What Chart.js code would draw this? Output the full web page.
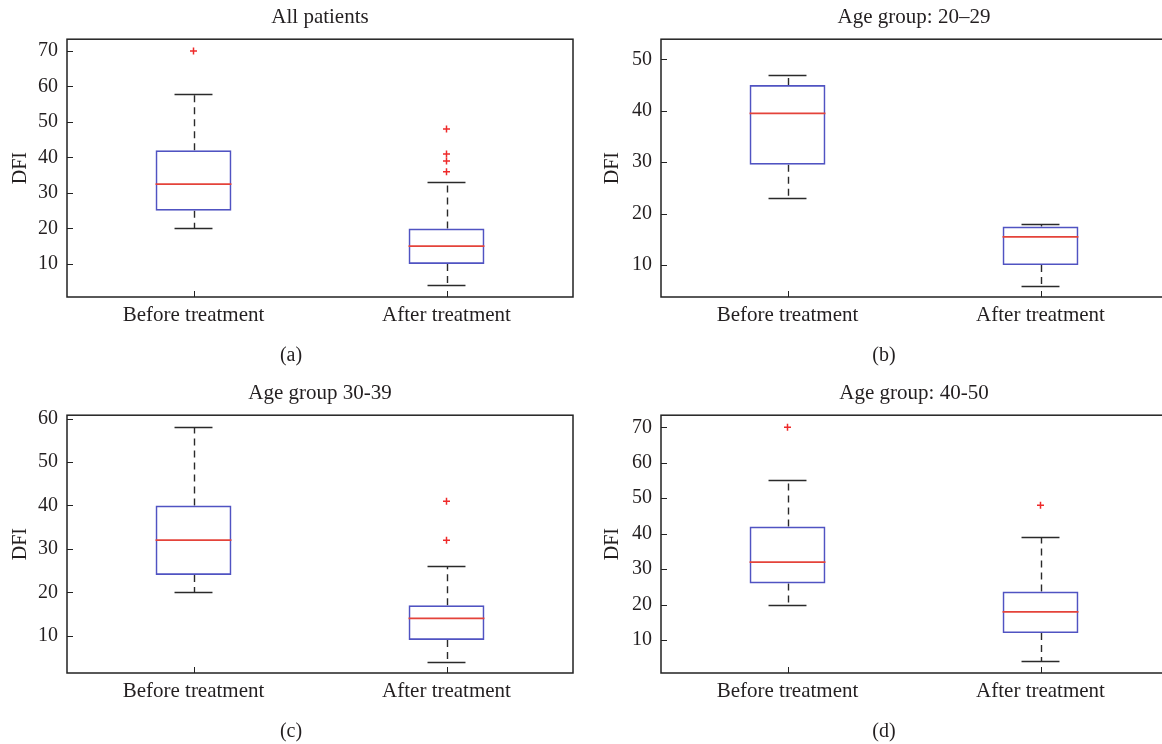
<!DOCTYPE html>
<html>
<head>
<meta charset="utf-8">
<script src="https://cdn.jsdelivr.net/npm/chart.js@4/dist/chart.umd.min.js"></script>
<style>
  html, body { margin: 0; padding: 0; background: #fff; overflow: hidden; width: 1162px; height: 744px; }
  canvas { position: absolute; }
</style>
</head>
<body>
<canvas id="panelA" width="581" height="372" style="left:0;top:0"></canvas>
<canvas id="panelB" width="606" height="372" style="left:581px;top:0"></canvas>
<canvas id="panelC" width="581" height="372" style="left:0;top:376px"></canvas>
<canvas id="panelD" width="606" height="372" style="left:581px;top:376px"></canvas>
<script>
// categories
const groups = ['Before treatment', 'After treatment'];

// (a) All patients  -- [before, after]
const q1A = [25, 10], q3A = [42, 20], medA = [32.5, 15], loA = [20, 4], hiA = [58, 33];
const outA = [[70], [36, 39, 41, 48]];
const ticksA = [10, 20, 30, 40, 50, 60, 70];

// (b) Age group 20-29
const q1B = [29.5, 10], q3B = [45, 17.5], medB = [39.5, 15.5], loB = [23, 6], hiB = [47, 18];
const outB = [[], []];
const ticksB = [10, 20, 30, 40, 50];

// (c) Age group 30-39
const q1C = [24, 9], q3C = [40, 17], medC = [32, 14], loC = [20, 4], hiC = [58, 26];
const outC = [[], [32, 41]];
const ticksC = [10, 20, 30, 40, 50, 60];

// (d) Age group 40-50
const q1D = [26, 12], q3D = [42, 23.7], medD = [32, 18], loD = [20, 4], hiD = [55, 39];
const outD = [[70], [48]];
const ticksD = [10, 20, 30, 40, 50, 60, 70];

const FONT = '"Liberation Serif", "DejaVu Serif", serif';
const TEXT = '#231f20';
const BOX = '#5053c2';
const MED = '#e4433a';
const WHISK = '#2a2a2a';
const OUTC = '#ee2a2a';

function boxPlugin(st) {
  return {
    id: 'boxparts',
    beforeDatasetsDraw(chart) {
      const ctx = chart.ctx, y = chart.scales.y;
      const bars = chart.getDatasetMeta(0).data;
      ctx.save();
      ctx.strokeStyle = WHISK;
      ctx.lineWidth = 1.4;
      bars.forEach((bar, i) => {
        const x = Math.round(bar.x) + 0.5;
        ctx.setLineDash([7, 5]);
        ctx.beginPath();
        ctx.moveTo(x, y.getPixelForValue(st.q3[i]));
        ctx.lineTo(x, y.getPixelForValue(st.hi[i]));
        ctx.moveTo(x, y.getPixelForValue(st.q1[i]));
        ctx.lineTo(x, y.getPixelForValue(st.lo[i]));
        ctx.stroke();
        ctx.setLineDash([]);
        const hw = bar.width / 4;
        ctx.beginPath();
        [st.hi[i], st.lo[i]].forEach(v => {
          const py = Math.round(y.getPixelForValue(v)) + 0.5;
          ctx.moveTo(bar.x - hw, py);
          ctx.lineTo(bar.x + hw, py);
        });
        ctx.stroke();
      });
      ctx.restore();
    },
    afterDatasetsDraw(chart) {
      const ctx = chart.ctx, y = chart.scales.y, xs = chart.scales.x;
      const a = chart.chartArea;
      const bars = chart.getDatasetMeta(0).data;
      ctx.save();
      ctx.strokeStyle = MED;
      ctx.lineWidth = 1.8;
      bars.forEach((bar, i) => {
        const py = y.getPixelForValue(st.med[i]);
        ctx.beginPath();
        ctx.moveTo(bar.x - bar.width / 2, py);
        ctx.lineTo(bar.x + bar.width / 2, py);
        ctx.stroke();
      });
      // frame and inward ticks
      ctx.strokeStyle = '#222';
      ctx.lineWidth = 1.5;
      ctx.strokeRect(a.left, a.top, a.right - a.left, a.bottom - a.top);
      ctx.lineWidth = 1;
      ctx.beginPath();
      y.ticks.forEach(t => {
        const py = Math.round(y.getPixelForValue(t.value)) + 0.5;
        ctx.moveTo(a.left, py);
        ctx.lineTo(a.left + 6, py);
      });
      groups.forEach((g, i) => {
        const px = Math.round(xs.getPixelForTick(i)) + 0.5;
        ctx.moveTo(px, a.bottom);
        ctx.lineTo(px, a.bottom - 6);
      });
      ctx.stroke();
      ctx.restore();
    }
  };
}

function makePanel(id, title, caption, st, lim, layout) {
  const outPts = groups.flatMap((g, i) => st.out[i].map(v => ({ x: g, y: v })));
  return new Chart(document.getElementById(id), {
    type: 'bar',
    data: {
      labels: groups,
      datasets: [{
        type: 'bar',
        data: groups.map((g, i) => [st.q1[i], st.q3[i]]),
        backgroundColor: 'rgba(255,255,255,0)',
        borderColor: BOX,
        borderWidth: 1.7,
        borderSkipped: false,
        barPercentage: 0.3,
        categoryPercentage: 1.0
      }, {
        type: 'line',
        data: outPts,
        showLine: false,
        pointStyle: 'cross',
        pointRadius: 3.5,
        pointBorderWidth: 1.5,
        borderColor: OUTC,
        backgroundColor: OUTC
      }]
    },
    options: {
      responsive: false,
      animation: false,
      devicePixelRatio: 1,
      events: [],
      layout: { padding: { left: layout.padLeft, right: layout.padRight, top: 0, bottom: 0 } },
      plugins: {
        legend: { display: false },
        tooltip: { enabled: false },
        title: {
          display: true, text: title, fullSize: false, color: TEXT,
          font: { family: FONT, size: 21, weight: 'normal', lineHeight: 1.2 },
          padding: { top: 5, bottom: 9 }
        },
        subtitle: {
          display: true, text: caption, position: 'bottom', color: TEXT,
          font: { family: FONT, size: 20, weight: 'normal', lineHeight: 1.2 },
          padding: { top: 7, bottom: 4 }
        }
      },
      scales: {
        x: {
          offset: true,
          grid: { display: false, drawTicks: false },
          border: { display: false },
          ticks: { color: TEXT, padding: 6, font: { family: FONT, size: 21 } },
          afterFit: s => { s.height = 40; }
        },
        y: {
          min: lim[0], max: lim[1],
          grid: { display: false, drawTicks: false },
          border: { display: false },
          ticks: { color: TEXT, padding: 9, font: { family: FONT, size: 20 } },
          afterBuildTicks: s => { s.ticks = lim[2].map(v => ({ value: v })); },
          title: {
            display: true, text: 'DFI', color: TEXT,
            font: { family: FONT, size: 20, lineHeight: 1.2 },
            padding: { top: 0, bottom: 0 }
          },
          afterFit: s => { s.width = layout.yWidth; }
        }
      }
    },
    plugins: [boxPlugin(st)]
  });
}

makePanel('panelA', 'All patients', '(a)',
  { q1: q1A, q3: q3A, med: medA, lo: loA, hi: hiA, out: outA }, [0.7, 73.3, ticksA],
  { padLeft: 9, padRight: 8, yWidth: 58 });
makePanel('panelB', 'Age group: 20\u201329', '(b)',
  { q1: q1B, q3: q3B, med: medB, lo: loB, hi: hiB, out: outB }, [3.8, 53.9, ticksB],
  { padLeft: 20, padRight: 20, yWidth: 60 });
makePanel('panelC', 'Age group 30-39', '(c)',
  { q1: q1C, q3: q3C, med: medC, lo: loC, hi: hiC, out: outC }, [1.4, 60.8, ticksC],
  { padLeft: 9, padRight: 8, yWidth: 58 });
makePanel('panelD', 'Age group: 40-50', '(d)',
  { q1: q1D, q3: q3D, med: medD, lo: loD, hi: hiD, out: outD }, [0.75, 73.4, ticksD],
  { padLeft: 20, padRight: 20, yWidth: 60 });
</script>
</body>
</html>
